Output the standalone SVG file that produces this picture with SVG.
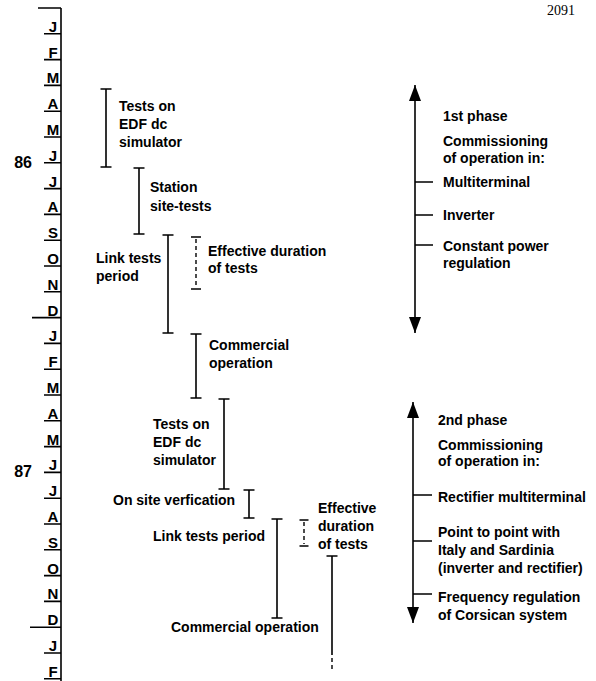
<svg xmlns="http://www.w3.org/2000/svg" width="596" height="681" viewBox="0 0 596 681">
<defs>
<style>
.t{font-family:"Liberation Sans",Arial,sans-serif;font-weight:bold;font-size:14px;fill:#000}
.m{font-family:"Liberation Sans",Arial,sans-serif;font-weight:bold;font-size:15px;fill:#000;text-anchor:middle}
.y{font-family:"Liberation Sans",Arial,sans-serif;font-weight:bold;font-size:16px;fill:#000;text-anchor:end}
.ax{stroke:#000;stroke-width:1.6;fill:none}
.bar{stroke:#000;stroke-width:1.6;fill:none}
.dash{stroke:#000;stroke-width:1.4;fill:none;stroke-dasharray:4 3}
.pg{font-family:"Liberation Serif","Times New Roman",serif;font-size:14px;fill:#000}
</style>
<marker id="arr" viewBox="0 0 16 12" refX="16" refY="6" markerWidth="16" markerHeight="12" markerUnits="userSpaceOnUse" orient="auto-start-reverse">
<path d="M0,0 L16,6 L0,12 z" fill="#000"/>
</marker>
</defs>
<rect width="596" height="681" fill="#fff"/>
<text class="pg" x="547" y="15">2091</text>

<g id="axis">
<path class="ax" d="M61,8 V681"/>
<path class="ax" d="M38,8 H61 M32,317.6 H61 M30,627.2 H61"/>
<path class="ax" d="M44,33.8 H61 M44,59.6 H61 M44,85.4 H61 M44,111.2 H61 M44,137 H61 M44,162.8 H61 M44,188.6 H61 M44,214.4 H61 M44,240.2 H61 M44,266 H61 M44,291.8 H61 M44,343.4 H61 M44,369.2 H61 M44,395 H61 M44,420.8 H61 M44,446.6 H61 M44,472.4 H61 M44,498.2 H61 M44,524 H61 M44,549.8 H61 M44,575.6 H61 M44,601.4 H61 M44,653 H61 M44,678.8 H61"/>
<text class="m" x="53" y="31.8">J</text>
<text class="m" x="53" y="57.6">F</text>
<text class="m" x="53" y="83.4">M</text>
<text class="m" x="53" y="109.2">A</text>
<text class="m" x="53" y="135">M</text>
<text class="m" x="53" y="160.8">J</text>
<text class="m" x="53" y="186.6">J</text>
<text class="m" x="53" y="212.4">A</text>
<text class="m" x="53" y="238.2">S</text>
<text class="m" x="53" y="264">O</text>
<text class="m" x="53" y="289.8">N</text>
<text class="m" x="53" y="315.6">D</text>
<text class="m" x="53" y="341.4">J</text>
<text class="m" x="53" y="367.2">F</text>
<text class="m" x="53" y="393">M</text>
<text class="m" x="53" y="418.8">A</text>
<text class="m" x="53" y="444.6">M</text>
<text class="m" x="53" y="470.4">J</text>
<text class="m" x="53" y="496.2">J</text>
<text class="m" x="53" y="522">A</text>
<text class="m" x="53" y="547.8">S</text>
<text class="m" x="53" y="573.6">O</text>
<text class="m" x="53" y="599.4">N</text>
<text class="m" x="53" y="625.2">D</text>
<text class="m" x="53" y="651">J</text>
<text class="m" x="53" y="676.8">F</text>
<text class="y" x="32" y="168">86</text>
<text class="y" x="32" y="477">87</text>
</g>

<g id="tests-edf-86">
<path class="bar" d="M100.5,89 H111.5 M106,89 V167 M100.5,167 H111.5"/>
<text class="t" x="119" y="111">Tests on</text>
<text class="t" x="119" y="129">EDF dc</text>
<text class="t" x="119" y="147">simulator</text>
</g>
<g id="station-site-tests">
<path class="bar" d="M133.5,168 H144.5 M139,168 V234 M133.5,234 H144.5"/>
<text class="t" x="150" y="192">Station</text>
<text class="t" x="150" y="211">site-tests</text>
</g>
<g id="link-tests-86">
<path class="bar" d="M162.5,235 H173.5 M168,235 V333 M162.5,333 H173.5"/>
<text class="t" x="96" y="263">Link tests</text>
<text class="t" x="96" y="281">period</text>
</g>
<g id="effective-86">
<path class="bar" d="M191,237 H201 M191,289 H201"/>
<path class="dash" d="M196,239 V287"/>
<text class="t" x="208" y="256">Effective duration</text>
<text class="t" x="208" y="273">of tests</text>
</g>
<g id="commercial-86">
<path class="bar" d="M190.5,334 H201.5 M196,334 V398 M190.5,398 H201.5"/>
<text class="t" x="209" y="350">Commercial</text>
<text class="t" x="209" y="368">operation</text>
</g>
<g id="tests-edf-87">
<path class="bar" d="M218.5,399 H229.5 M224,399 V489 M218.5,489 H229.5"/>
<text class="t" x="153" y="429">Tests on</text>
<text class="t" x="153" y="447">EDF dc</text>
<text class="t" x="153" y="465">simulator</text>
</g>
<g id="on-site">
<path class="bar" d="M243.5,490 H254.5 M249,490 V518 M243.5,518 H254.5"/>
<text class="t" x="113" y="505">On site verfication</text>
</g>
<g id="link-tests-87">
<path class="bar" d="M271.5,519 H282.5 M277,519 V618 M271.5,618 H282.5"/>
<text class="t" x="153" y="541">Link tests period</text>
</g>
<g id="effective-87">
<path class="bar" d="M299.5,520 H308.5 M299.5,546 H308.5"/>
<path class="dash" d="M304,522 V544"/>
<text class="t" x="318" y="513">Effective</text>
<text class="t" x="318" y="531">duration</text>
<text class="t" x="318" y="549">of tests</text>
</g>
<g id="commercial-87">
<path class="bar" d="M326.5,556 H337.5 M332,556 V655"/>
<path class="dash" d="M332,658 V672"/>
<text class="t" x="171" y="632">Commercial operation</text>
</g>

<g id="phase1">
<line class="ax" x1="415" y1="85" x2="415" y2="333" marker-start="url(#arr)" marker-end="url(#arr)"/>
<path class="ax" d="M415,182 H433 M415,215 H433 M415,245 H433"/>
<text class="t" x="443" y="121">1st phase</text>
<text class="t" x="443" y="146">Commissioning</text>
<text class="t" x="443" y="163">of operation in:</text>
<text class="t" x="443" y="187">Multiterminal</text>
<text class="t" x="443" y="220">Inverter</text>
<text class="t" x="443" y="251">Constant power</text>
<text class="t" x="443" y="268">regulation</text>
</g>
<g id="phase2">
<line class="ax" x1="413" y1="402" x2="413" y2="623" marker-start="url(#arr)" marker-end="url(#arr)"/>
<path class="ax" d="M413,495 H432 M413,541 H432 M413,594 H432"/>
<text class="t" x="438" y="425">2nd phase</text>
<text class="t" x="438" y="450">Commissioning</text>
<text class="t" x="438" y="466">of operation in:</text>
<text class="t" x="438" y="502">Rectifier multiterminal</text>
<text class="t" x="438" y="537">Point to point with</text>
<text class="t" x="438" y="555">Italy and Sardinia</text>
<text class="t" x="438" y="573">(inverter and rectifier)</text>
<text class="t" x="438" y="602">Frequency regulation</text>
<text class="t" x="438" y="620">of Corsican system</text>
</g>
</svg>
